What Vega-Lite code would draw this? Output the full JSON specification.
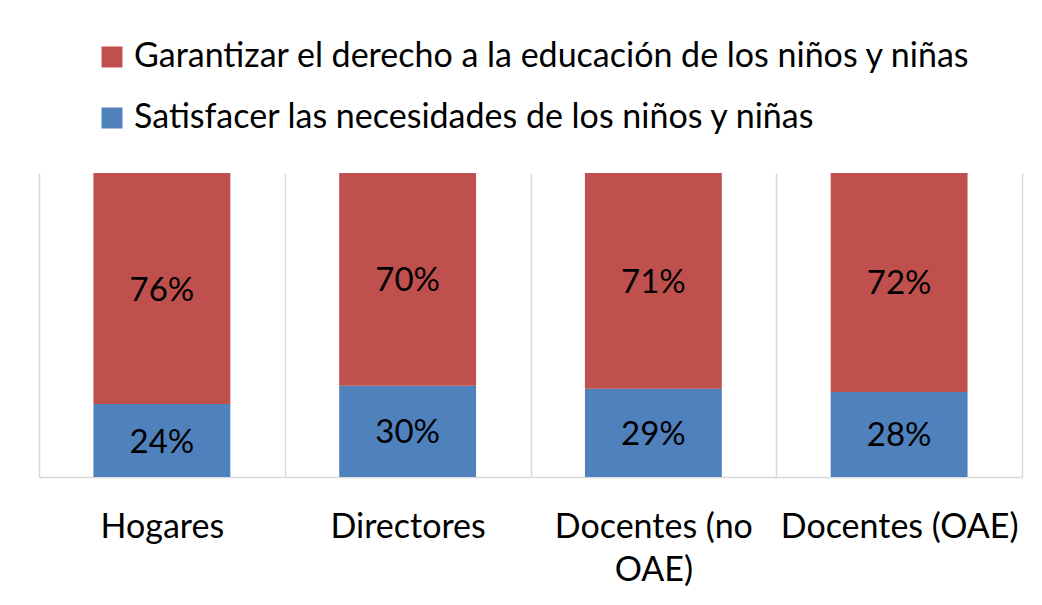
{
  "$schema": "https://vega.github.io/schema/vega-lite/v6.json",
  "width": 983,
  "height": 304,
  "autosize": {"type": "none"},
  "padding": {"left": 39, "top": 173, "right": 20, "bottom": 128},
  "background": "white",
  "config": {
    "view": {"stroke": null},
    "font": "Lato"
  },
  "data": {
    "values": [
      {"cat": "Hogares", "serie": "Satisfacer las necesidades de los niños y niñas", "ord": 1, "value": 0.24},
      {"cat": "Hogares", "serie": "Garantizar el derecho a la educación de los niños y niñas", "ord": 2, "value": 0.76},
      {"cat": "Directores", "serie": "Satisfacer las necesidades de los niños y niñas", "ord": 1, "value": 0.30},
      {"cat": "Directores", "serie": "Garantizar el derecho a la educación de los niños y niñas", "ord": 2, "value": 0.70},
      {"cat": "Docentes (no OAE)", "serie": "Satisfacer las necesidades de los niños y niñas", "ord": 1, "value": 0.29},
      {"cat": "Docentes (no OAE)", "serie": "Garantizar el derecho a la educación de los niños y niñas", "ord": 2, "value": 0.71},
      {"cat": "Docentes (OAE)", "serie": "Satisfacer las necesidades de los niños y niñas", "ord": 1, "value": 0.28},
      {"cat": "Docentes (OAE)", "serie": "Garantizar el derecho a la educación de los niños y niñas", "ord": 2, "value": 0.72}
    ]
  },
  "encoding": {
    "x": {
      "field": "cat",
      "type": "nominal",
      "sort": null,
      "scale": {"paddingInner": 0, "paddingOuter": 0},
      "axis": {
        "title": null,
        "labelAngle": 0,
        "labelFontSize": 34,
        "labelColor": "black",
        "labelPadding": 33,
        "labelLineHeight": 43,
        "labelLimit": 1000,
        "labelOverlap": false,
        "labelExpr": "datum.value == 'Docentes (no OAE)' ? ['Docentes (no', 'OAE)'] : datum.value",
        "ticks": false,
        "grid": true,
        "gridColor": "#d9d9d9",
        "gridWidth": 1.5,
        "tickBand": "extent",
        "domainColor": "#d9d9d9",
        "domainWidth": 1.5
      }
    },
    "y": {
      "field": "value",
      "type": "quantitative",
      "stack": "normalize",
      "scale": {"domain": [0, 1]},
      "axis": null
    },
    "order": {"field": "ord", "type": "ordinal"}
  },
  "layer": [
    {
      "mark": {"type": "bar", "width": {"band": 0.557}},
      "encoding": {
        "color": {
          "field": "serie",
          "type": "nominal",
          "scale": {
            "domain": ["Garantizar el derecho a la educación de los niños y niñas", "Satisfacer las necesidades de los niños y niñas"],
            "range": ["#C0504D", "#4F81BD"]
          },
          "legend": {
            "title": null,
            "orient": "none",
            "legendX": 56,
            "legendY": -133,
            "symbolType": "square",
            "symbolSize": 441,
            "symbolStrokeWidth": 0,
            "symbolOpacity": 1,
            "labelFontSize": 34,
            "labelColor": "black",
            "labelOffset": 5,
            "labelLimit": 1000,
            "rowPadding": 27
          }
        }
      }
    },
    {
      "mark": {"type": "text", "fontSize": 33, "color": "black", "baseline": "middle", "dy": 2},
      "encoding": {
        "y": {"field": "value", "type": "quantitative", "stack": "normalize", "bandPosition": 0.5},
        "text": {"field": "value", "type": "quantitative", "format": ".0%"}
      }
    }
  ]
}
